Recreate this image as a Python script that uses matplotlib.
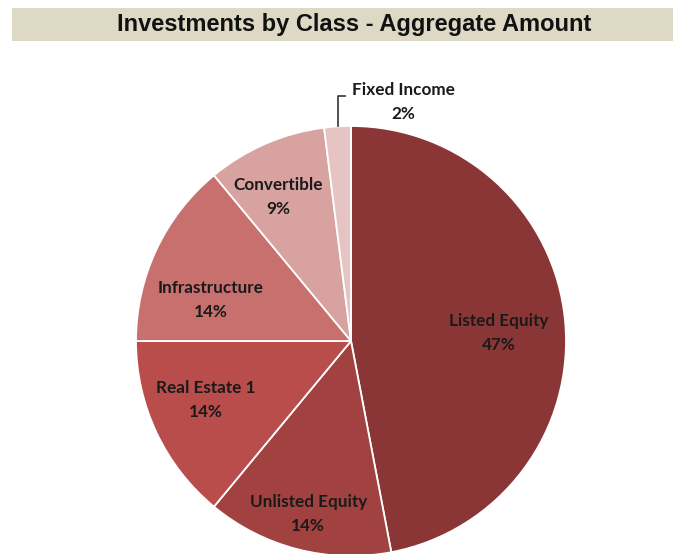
import matplotlib
matplotlib.use('Agg')
import matplotlib.pyplot as plt
from matplotlib.patches import Rectangle
import numpy as np

labels = ['Listed Equity', 'Unlisted Equity', 'Real Estate 1',
          'Infrastructure', 'Convertible', 'Fixed Income']
shares = [47, 14, 14, 14, 9, 2]
colors = ['#8B3636', '#A14241', '#B84D4B', '#C7706E', '#D8A2A1', '#E6C4C4']

# label placement, as (radius fraction, angle nudge in degrees) from each wedge's middle
label_r = [0.69, 0.83, 0.73, 0.68, 0.75, 1.14]
label_nudge = [-2.4, 0.5, -3.2, 9.0, 3.6, -16.0]

W, H = 673, 554
fig = plt.figure(figsize=(W / 100, H / 100), dpi=100)
fig.patch.set_facecolor('white')

# title band
fig.patches.append(Rectangle((12 / W, 1 - 41 / H), (W - 12) / W, 33 / H,
                             transform=fig.transFigure, facecolor='#DDD9C4',
                             edgecolor='none', zorder=0))
fig.text(354 / W, 1 - 25 / H, 'Investments by Class - Aggregate Amount',
         ha='center', va='center', fontsize=17, fontweight='bold',
         family='Liberation Sans', color='#111111')

cx, cy, R = 351, 341, 215
ax = fig.add_axes([(cx - R) / W, (H - cy - R) / H, 2 * R / W, 2 * R / H])
wedges, _ = ax.pie(shares, colors=colors, startangle=90, counterclock=False,
                   wedgeprops=dict(edgecolor='white', linewidth=1.3))
ax.set_xlim(-1, 1)
ax.set_ylim(-1, 1)
ax.set_aspect('equal')
ax.axis('off')

for w, lab, s, r, nd in zip(wedges, labels, shares, label_r, label_nudge):
    mid = np.deg2rad((w.theta1 + w.theta2) / 2 + nd)
    x, y = r * np.cos(mid), r * np.sin(mid)
    ax.text(x, y, f'{lab}\n{s}%', ha='center', va='center', fontsize=12.3,
            fontweight='bold', family='Lato', color='#1a1a1a',
            linespacing=1.6, clip_on=False)

# leader line for the small slice
fi = wedges[-1]
a = np.deg2rad((fi.theta1 + fi.theta2) / 2)
x0, y0 = np.cos(a), np.sin(a)
ax.plot([x0, x0, x0 + 0.035], [y0, y0 + 0.14, y0 + 0.14], color='#333333',
        linewidth=1.2, clip_on=False)

fig.savefig('out.png', dpi=100)
